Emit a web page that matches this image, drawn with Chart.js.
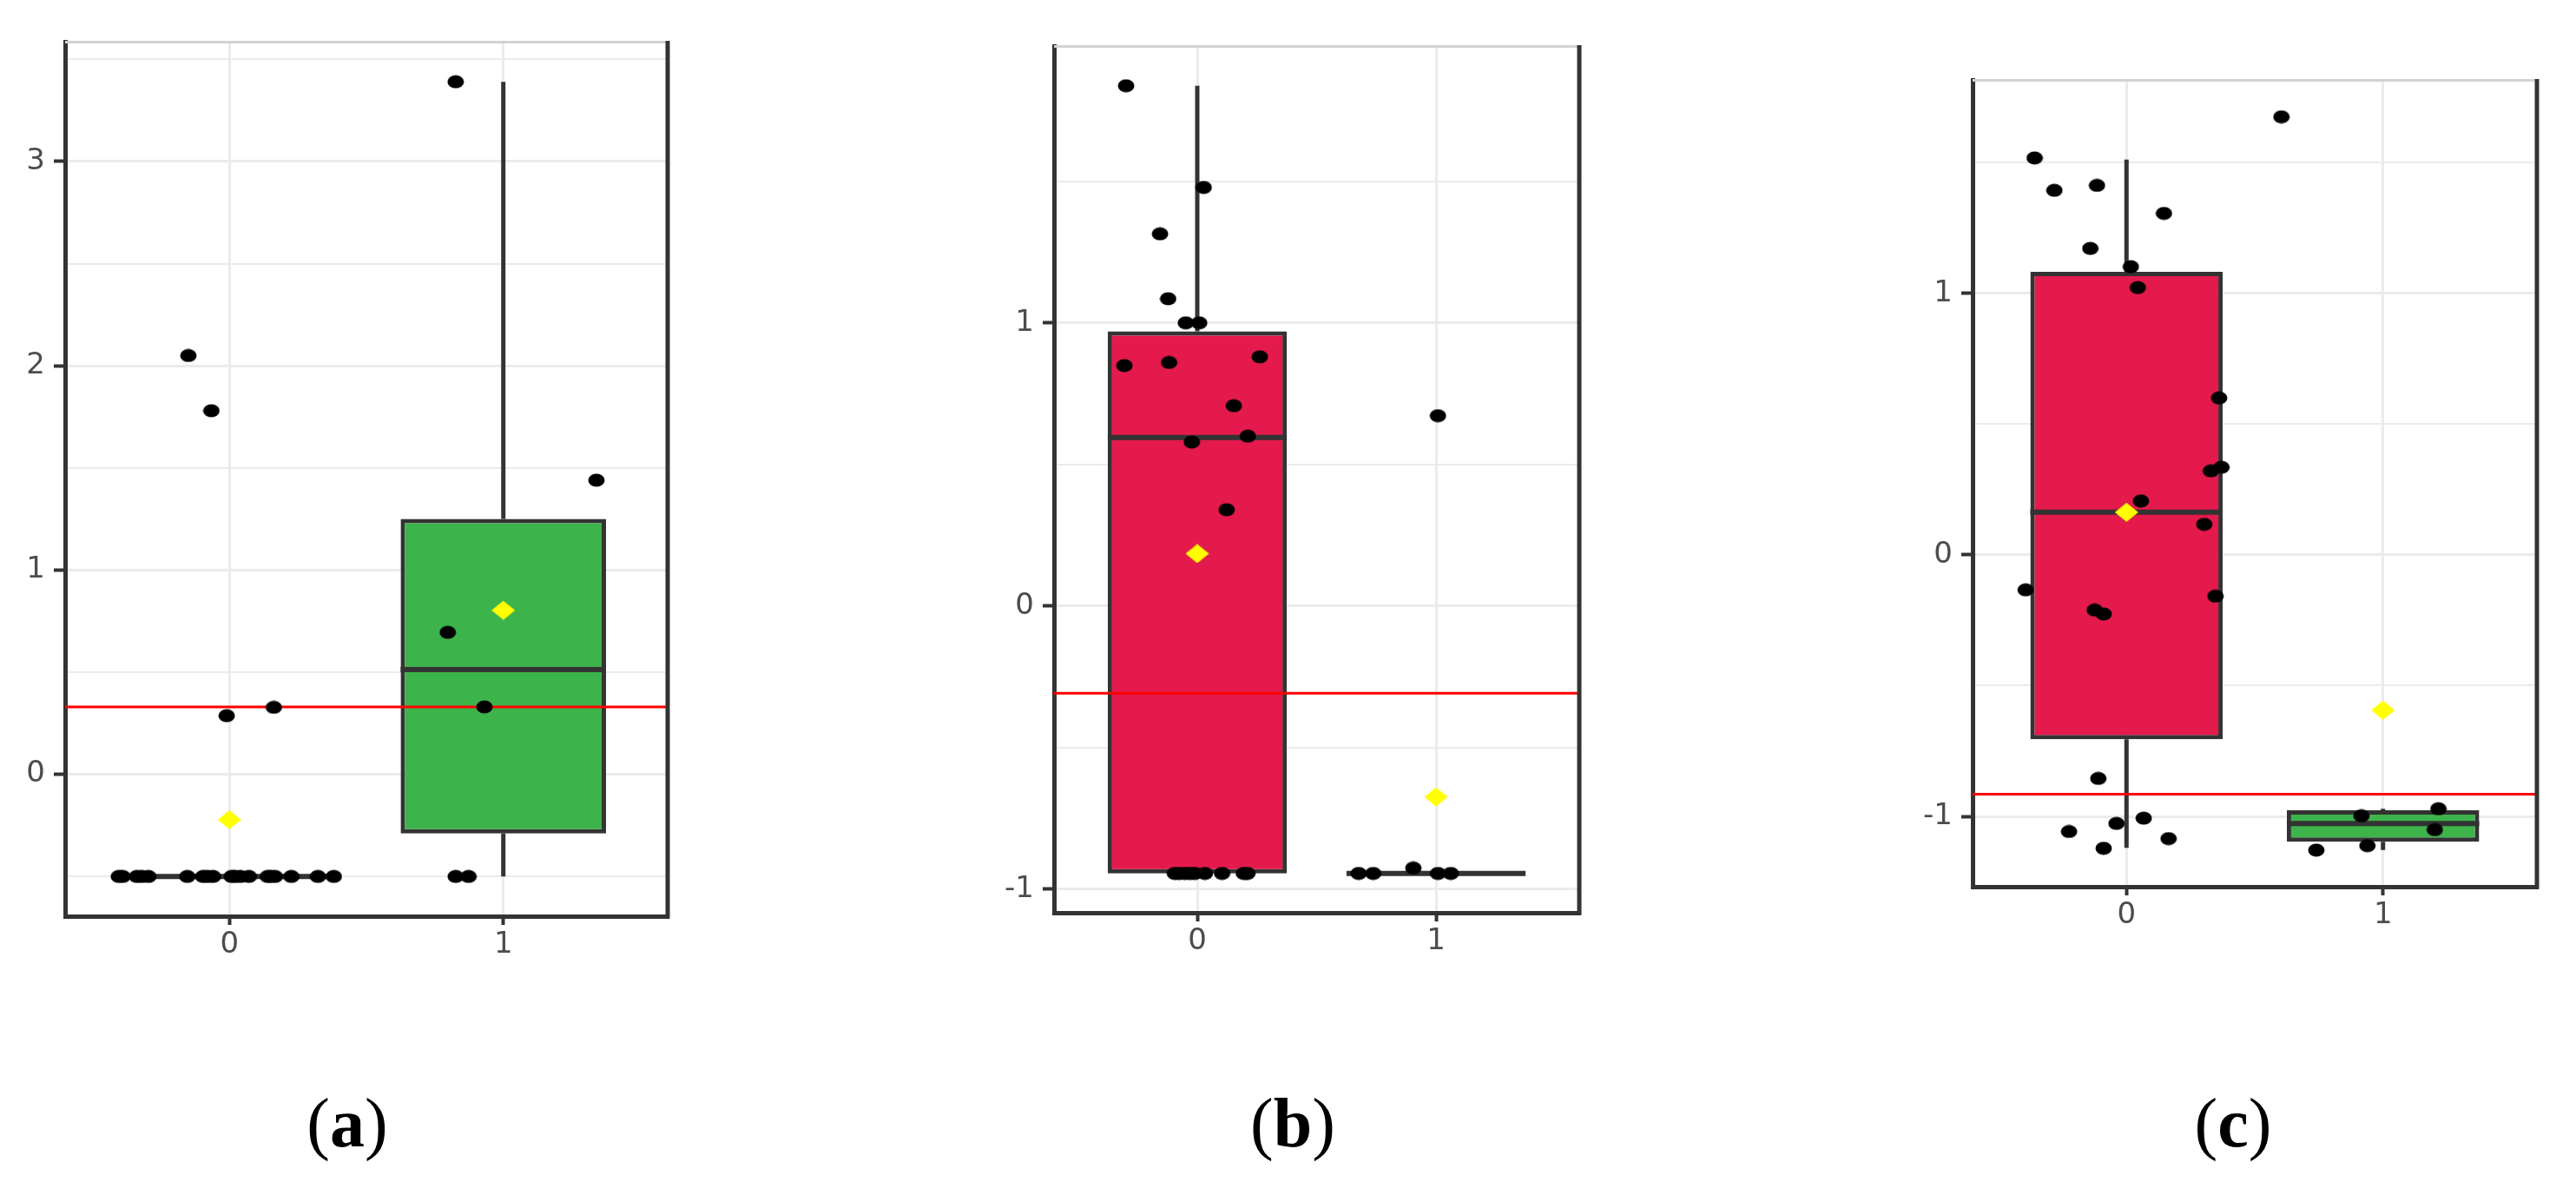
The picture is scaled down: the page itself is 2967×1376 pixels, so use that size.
<!DOCTYPE html>
<html>
<head>
<meta charset="utf-8">
<script src="https://cdn.jsdelivr.net/npm/chart.js@4/dist/chart.umd.min.js"></script>
<style>
  html, body { margin: 0; padding: 0; background: #ffffff; }
  body { position: relative; width: 2967px; height: 1376px; overflow: hidden; }
  canvas { position: absolute; }
  .lab { position: absolute; width: 300px; text-align: center; font-family: 'Liberation Serif', 'DejaVu Serif', serif;
         font-size: 80px; line-height: 80px; color: #000; }
  .lab b { font-weight: bold; }
</style>
</head>
<body>
<canvas id="ca"></canvas>
<canvas id="cb"></canvas>
<canvas id="cc"></canvas>
<div class="lab" id="la">(<b>a</b>)</div>
<div class="lab" id="lb">(<b>b</b>)</div>
<div class="lab" id="lc">(<b>c</b>)</div>
<script>
// ---------------- DATA ----------------
const categories = ['0', '1'];
const categoryIndex = [0, 1];
const panelLabels = ['a', 'b', 'c'];

// Panel (a)
const aGroup0Values = [2.05, 1.78, 0.287, 0.328,
  -0.5, -0.5, -0.5, -0.5, -0.5, -0.5, -0.5, -0.5, -0.5, -0.5, -0.5, -0.5, -0.5, -0.5, -0.5, -0.5, -0.5, -0.5, -0.5];
const aGroup0Jitter = [-0.150, -0.066, -0.010, 0.162,
  -0.404, -0.390, -0.338, -0.320, -0.296, -0.154, -0.096, -0.080, -0.060, 0.008, 0.020, 0.040, 0.071, 0.140, 0.150, 0.166, 0.226, 0.323, 0.381];
const aGroup1Values = [3.39, 1.44, 0.695, 0.33, -0.5, -0.5];
const aGroup1Jitter = [-0.174, 0.340, -0.203, -0.069, -0.174, -0.127];
const aQ1 = [-0.5, -0.29];
const aMedian = [-0.5, 0.513];
const aQ3 = [-0.5, 1.25];
const aWhiskerLow = [-0.5, -0.5];
const aWhiskerHigh = [-0.5, 3.39];
const aMean = [-0.222, 0.803];
const aReference = 0.33;
const aYRange = [-0.6945, 3.5845];
const aYTicks = [-0.5, 0, 0.5, 1, 1.5, 2, 2.5, 3, 3.5];

// Panel (b)
const bGroup0Values = [1.837, 1.478, 1.314, 1.085, 1.0, 1.0, 0.849, 0.860, 0.880, 0.707, 0.579, 0.600, 0.340,
  -0.944, -0.944, -0.944, -0.944, -0.944, -0.944, -0.944, -0.944, -0.944];
const bGroup0Jitter = [-0.298, 0.027, -0.156, -0.122, -0.048, 0.008, -0.305, -0.118, 0.262, 0.153, -0.023, 0.212, 0.123,
  -0.094, -0.075, -0.052, -0.030, -0.010, 0.032, 0.104, 0.195, 0.210];
const bGroup1Values = [0.672, -0.944, -0.944, -0.925, -0.944, -0.944];
const bGroup1Jitter = [0.008, -0.324, -0.263, -0.095, 0.008, 0.062];
const bQ1 = [-0.944, -0.944];
const bMedian = [0.595, -0.944];
const bQ3 = [0.970, -0.944];
const bWhiskerLow = [-0.944, -0.944];
const bWhiskerHigh = [1.837, -0.944];
const bMean = [0.185, -0.674];
const bReference = -0.308;
const bYRange = [-1.083, 1.976];
const bYTicks = [-1, -0.5, 0, 0.5, 1, 1.5];

// Panel (c)
const cGroup0Values = [1.518, 1.394, 1.413, 1.306, 1.172, 1.102, 1.022, 0.600, 0.335, 0.321, 0.206, 0.117,
  -0.134, -0.158, -0.211, -0.226, -0.855, -1.058, -1.027, -1.007, -1.122, -1.085];
const cGroup0Jitter = [-0.358, -0.281, -0.115, 0.146, -0.141, 0.017, 0.044, 0.361, 0.370, 0.329, 0.056, 0.303,
  -0.393, 0.347, -0.124, -0.089, -0.110, -0.224, -0.039, 0.067, -0.089, 0.164];
const cGroup1Values = [1.675, -0.998, -0.971, -1.051, -1.112, -1.129];
const cGroup1Jitter = [-0.396, -0.084, 0.216, 0.202, -0.061, -0.260];
const cQ1 = [-0.705, -1.097];
const cMedian = [0.163, -1.027];
const cQ3 = [1.082, -0.977];
const cWhiskerLow = [-1.120, -1.129];
const cWhiskerHigh = [1.512, -0.971];
const cMean = [0.163, -0.594];
const cReference = -0.915;
const cYRange = [-1.269, 1.815];
const cYTicks = [-1, -0.5, 0, 0.5, 1, 1.5];

const xRange = [-0.6, 1.6];

// ---------------- STYLE / LAYOUT ----------------
const RED = '#E31A4B', GREEN = '#3DB34B', DARK = '#333333', GRID = '#EBEBEB';
const BOX_WIDTH = 0.75;
const Y_AXIS_W = 75, X_AXIS_H = 60, PAD_T = 30, PAD_R = 20, PAD_B = 10;
const layout = {
  a: { plot: [75, 48, 769, 1055], label: 400 },
  b: { plot: [1214, 53, 1819, 1051], label: 1489 },
  c: { plot: [2272, 92, 2922, 1021], label: 2572 }
};
const LABEL_TOP = 1253;

function ellipseImg(w, h, color) {
  const c = document.createElement('canvas'); c.width = w; c.height = h;
  const g = c.getContext('2d'); g.fillStyle = color;
  g.beginPath(); g.ellipse(w / 2, h / 2, w / 2 - 0.5, h / 2 - 0.5, 0, 0, Math.PI * 2); g.fill();
  return c;
}
function diamondImg(w, h, color) {
  const c = document.createElement('canvas'); c.width = w; c.height = h;
  const g = c.getContext('2d'); g.fillStyle = color;
  g.beginPath(); g.moveTo(w / 2, 0); g.lineTo(w, h / 2); g.lineTo(w / 2, h); g.lineTo(0, h / 2); g.closePath(); g.fill();
  return c;
}
const dotImg = ellipseImg(20, 16, '#000000');
const meanImg = diamondImg(27, 22, '#FFFF00');

const framePlugin = {
  id: 'frame',
  afterDatasetsDraw(chart) {
    const { ctx, chartArea: { left, right, top, bottom } } = chart;
    ctx.save();
    ctx.lineWidth = 3; ctx.strokeStyle = '#D2D2D2';
    ctx.beginPath(); ctx.moveTo(left, top); ctx.lineTo(right, top); ctx.stroke();
    ctx.lineWidth = 5; ctx.strokeStyle = DARK;
    ctx.beginPath(); ctx.moveTo(right, top - 1.5); ctx.lineTo(right, bottom + 2.5); ctx.stroke();
    ctx.restore();
  }
};

function segs(pairs) {
  const out = [];
  pairs.forEach((p, i) => {
    if (i > 0) out.push({ x: (p[0][0] + pairs[i - 1][1][0]) / 2, y: null });
    out.push({ x: p[0][0], y: p[0][1] }, { x: p[1][0], y: p[1][1] });
  });
  return out;
}

function makePanel(key, d) {
  const L = layout[key];
  const [pl, pt, pr, pb] = L.plot;
  const cv = document.getElementById('c' + key);
  const W = (pr - pl) + Y_AXIS_W + PAD_R;
  const H = (pb - pt) + PAD_T + PAD_B + X_AXIS_H;
  cv.width = W; cv.height = H;
  cv.style.left = (pl - Y_AXIS_W) + 'px';
  cv.style.top = (pt - PAD_T) + 'px';
  cv.style.width = W + 'px'; cv.style.height = H + 'px';

  const lab = document.getElementById('l' + key);
  lab.style.left = (L.label - 150) + 'px';
  lab.style.top = LABEL_TOP + 'px';

  const half = BOX_WIDTH / 2;
  const medianSegs = segs(categoryIndex.map((c, i) => [[c - half, d.median[i]], [c + half, d.median[i]]]));
  const whiskerSegs = segs(categoryIndex.flatMap((c, i) => [
    [[c, d.q3[i]], [c, d.whiskerHigh[i]]],
    [[c, d.q1[i]], [c, d.whiskerLow[i]]]
  ]));

  new Chart(cv, {
    type: 'scatter',
    data: {
      datasets: [
        { type: 'scatter', order: 0,
          data: categoryIndex.map((c, i) => ({ x: c, y: d.mean[i] })),
          pointStyle: meanImg, pointRadius: 12, showLine: false },
        { type: 'scatter', order: 1,
          data: d.g0v.map((v, i) => ({ x: categoryIndex[0] + d.g0j[i], y: v })),
          pointStyle: dotImg, pointRadius: 9, showLine: false },
        { type: 'scatter', order: 1,
          data: d.g1v.map((v, i) => ({ x: categoryIndex[1] + d.g1j[i], y: v })),
          pointStyle: dotImg, pointRadius: 9, showLine: false },
        { type: 'scatter', order: 2, showLine: true,
          data: [{ x: xRange[0], y: d.ref }, { x: xRange[1], y: d.ref }],
          borderColor: '#FF0000', borderWidth: 3, pointRadius: 0 },
        { type: 'scatter', order: 3, showLine: true, spanGaps: false,
          data: medianSegs, borderColor: DARK, borderWidth: 6, pointRadius: 0, borderCapStyle: 'butt' },
        { type: 'bar', order: 4,
          data: categoryIndex.map((c, i) => ({ x: c, y: [d.q1[i], d.q3[i]] })),
          backgroundColor: d.colors, borderColor: DARK, borderWidth: 5, borderSkipped: false,
          barPercentage: BOX_WIDTH, categoryPercentage: 1.0 },
        { type: 'scatter', order: 5, showLine: true, spanGaps: false,
          data: whiskerSegs, borderColor: DARK, borderWidth: 5, pointRadius: 0, borderCapStyle: 'butt' }
      ]
    },
    options: {
      responsive: false, animation: false, devicePixelRatio: 1,
      layout: { padding: { top: PAD_T, right: PAD_R, bottom: PAD_B, left: 0 } },
      plugins: { legend: { display: false }, tooltip: { enabled: false } },
      scales: {
        x: {
          type: 'linear', min: xRange[0], max: xRange[1], offset: false, bounds: 'data',
          afterBuildTicks: ax => { ax.ticks = categoryIndex.map(v => ({ value: v })); },
          afterFit: s => { s.height = X_AXIS_H; },
          ticks: { autoSkip: false, maxRotation: 0, padding: 3, color: '#4D4D4D',
                   font: { family: 'DejaVu Sans', size: 34 },
                   callback: v => categories[v] !== undefined ? categories[v] : '' },
          grid: { offset: false, color: GRID, lineWidth: 3, tickColor: DARK, tickLength: 10, tickWidth: 4 },
          border: { color: DARK, width: 5 }
        },
        y: {
          type: 'linear', min: d.yRange[0], max: d.yRange[1], offset: false, bounds: 'data',
          afterBuildTicks: ax => { ax.ticks = d.yTicks.map(v => ({ value: v })); },
          afterFit: s => { s.width = Y_AXIS_W; },
          ticks: { autoSkip: false, padding: 10, color: '#4D4D4D',
                   font: { family: 'DejaVu Sans', size: 34 },
                   callback: v => Number.isInteger(v) ? String(v) : '' },
          grid: {
            offset: false,
            color: GRID,
            lineWidth: c => (c.tick && Number.isInteger(c.tick.value)) ? 3 : 2,
            tickColor: c => (c.tick && Number.isInteger(c.tick.value)) ? DARK : 'rgba(0,0,0,0)',
            tickLength: 13, tickWidth: 4
          },
          border: { color: DARK, width: 5 }
        }
      }
    },
    plugins: [framePlugin]
  });
}

makePanel('a', { g0v: aGroup0Values, g0j: aGroup0Jitter, g1v: aGroup1Values, g1j: aGroup1Jitter,
  q1: aQ1, median: aMedian, q3: aQ3, whiskerLow: aWhiskerLow, whiskerHigh: aWhiskerHigh, mean: aMean,
  ref: aReference, yRange: aYRange, yTicks: aYTicks, colors: [RED, GREEN] });
makePanel('b', { g0v: bGroup0Values, g0j: bGroup0Jitter, g1v: bGroup1Values, g1j: bGroup1Jitter,
  q1: bQ1, median: bMedian, q3: bQ3, whiskerLow: bWhiskerLow, whiskerHigh: bWhiskerHigh, mean: bMean,
  ref: bReference, yRange: bYRange, yTicks: bYTicks, colors: [RED, GREEN] });
makePanel('c', { g0v: cGroup0Values, g0j: cGroup0Jitter, g1v: cGroup1Values, g1j: cGroup1Jitter,
  q1: cQ1, median: cMedian, q3: cQ3, whiskerLow: cWhiskerLow, whiskerHigh: cWhiskerHigh, mean: cMean,
  ref: cReference, yRange: cYRange, yTicks: cYTicks, colors: [RED, GREEN] });
</script>
</body>
</html>
